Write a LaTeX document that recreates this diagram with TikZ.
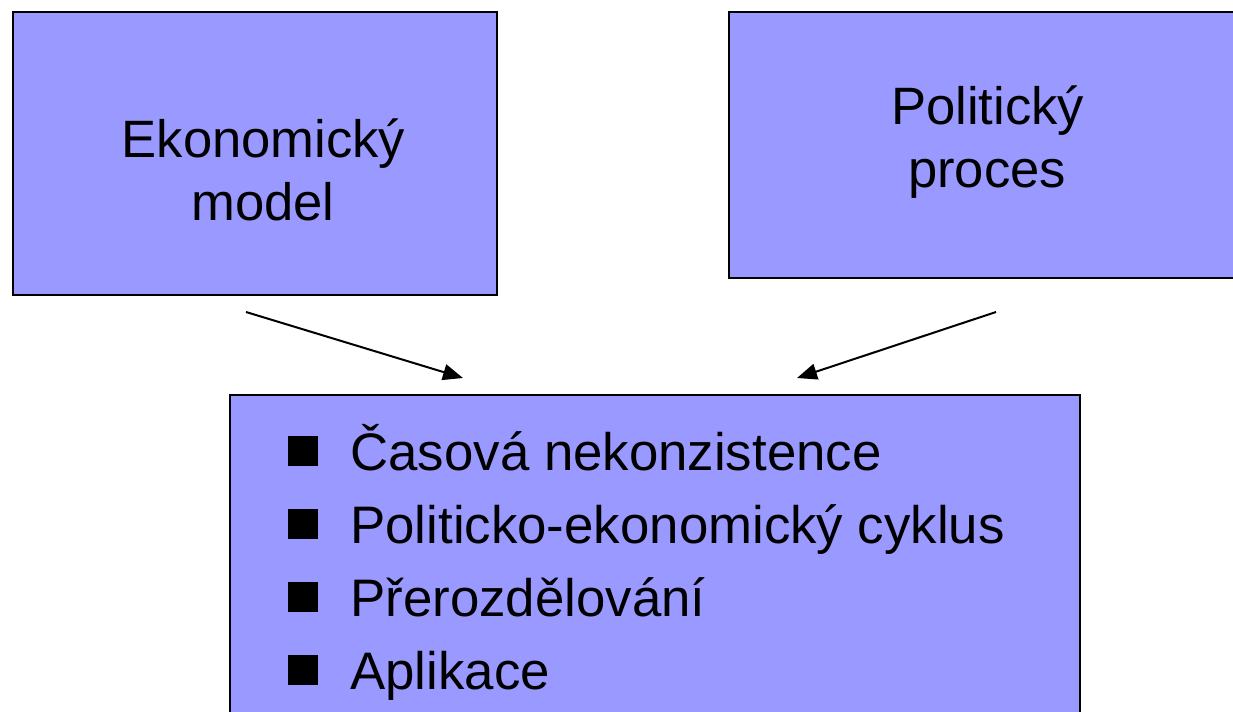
\documentclass[tikz,border=0pt]{standalone}
\usepackage{fontspec}
\setmainfont{Liberation Sans}
\usetikzlibrary{arrows.meta}
\definecolor{boxfill}{HTML}{9999FF}
\begin{document}
\begin{tikzpicture}[x=0.5pt,y=-0.5pt,
  box/.style={draw=black, line width=1pt, fill=boxfill, inner sep=0pt},
  lbl/.style={anchor=base, inner sep=0pt, font=\fontsize{26.3pt}{31pt}\selectfont},
  itemtext/.style={anchor=base west, inner sep=0pt, font=\fontsize{26.4pt}{31pt}\selectfont},
  bulletsq/.style={fill=black, minimum size=15pt, inner sep=0pt},
  conn/.style={line width=1pt, -{Triangle[length=10pt,width=8pt]}}]
\useasboundingbox (0,0) rectangle (1233,712);
\clip (0,0) rectangle (1233,712);
% boxes
\node[box, minimum width=242pt, minimum height=141.5pt] (eko) at (255,153.5) {};
\node[box, minimum width=258pt, minimum height=133pt] (pol) at (987,145) {};
\node[box, minimum width=425pt, minimum height=167.5pt] (list) at (655,562.5) {};
% box labels
\node[lbl] (eko1) at (263.5,157) {Ekonomický};
\node[lbl] (eko2) at (263,220) {model};
\node[lbl] (pol1) at (987.5,124) {Politický};
\node[lbl] (pol2) at (987,187) {proces};
% bullets
\node[bulletsq] (b1) at (303,451) {};
\node[bulletsq] (b2) at (303,524) {};
\node[bulletsq] (b3) at (303,597) {};
\node[bulletsq] (b4) at (303,670) {};
\node[itemtext] (t1) at (350,470) {Časová nekonzistence};
\node[itemtext] (t2) at (350,543) {Politicko-ekonomický cyklus};
\node[itemtext] (t3) at (350,616) {Přerozdělování};
\node[itemtext] (t4) at (350,689) {Aplikace};
% connectors
\coordinate (a1s) at (246,312);
\coordinate (a1e) at (463,378);
\coordinate (a2s) at (996,312);
\coordinate (a2e) at (797,378);
\draw[conn] (a1s) -- (a1e);
\draw[conn] (a2s) -- (a2e);
\end{tikzpicture}
\end{document}
